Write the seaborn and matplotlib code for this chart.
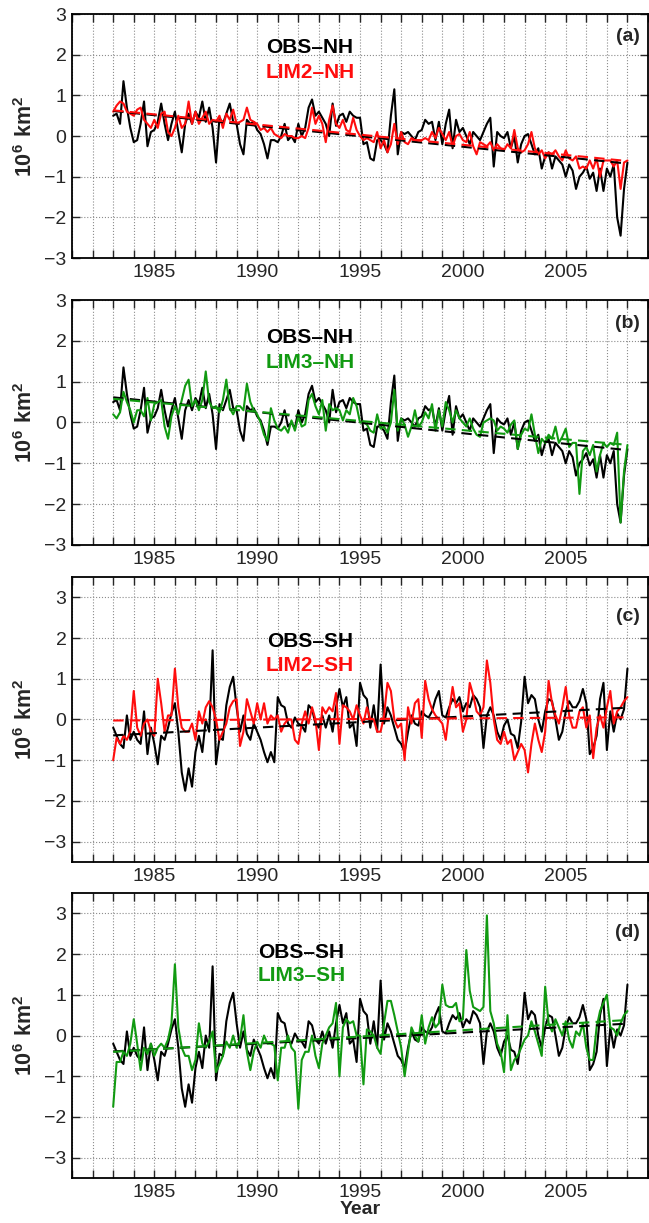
import numpy as np
import matplotlib
matplotlib.use('Agg')
import matplotlib.pyplot as plt
from matplotlib.ticker import MultipleLocator
import seaborn as sns

sns.set_style('ticks')
plt.rcParams['font.family'] = ['Liberation Sans', 'DejaVu Sans']
plt.rcParams['mathtext.fontset'] = 'custom'
plt.rcParams['mathtext.bf'] = 'Liberation Sans:bold'
plt.rcParams['mathtext.rm'] = 'Liberation Sans'

# sea-ice extent anomalies, bi-monthly samples from 1983.0 to 2008.0 (1e6 km^2)
obs_nh = [
    0.5, 0.55, 0.3, 1.35, 0.7, 0.2,
    -0.15, -0.1, 0.3, 0.85, -0.25, 0.1,
    0.15, 0.35, 0.8, 0.3, -0.1, 0.3,
    0.6, 0.1, -0.4, 0.3, 0.55, 0.3,
    0.6, 0.45, 0.85, 0.35, 0.7, 0.2,
    -0.65, 0.45, 0.3, 0.55, 0.8, 0.35,
    0.3, -0.2, -0.45, 0.4, 0.3, 0.35,
    0.15, 0.05, -0.2, -0.55, -0.1, -0.1,
    -0.15, 0.0, 0.3, -0.1, 0.0, -0.15,
    0.3, 0.0, 0.2, 0.7, 0.9, 0.5,
    0.6, 0.45, 0.3, 0.0, 0.8, 0.25,
    0.5, 0.55, 0.35, 0.6, 0.5, 0.45,
    0.45, -0.2, -0.15, -0.55, -0.6, -0.1,
    -0.1, -0.2, -0.4, 0.5, 1.15, -0.45,
    0.1, 0.05, 0.1, 0.0, -0.1, 0.1,
    0.15, 0.4, 0.3, 0.35, -0.1, 0.35,
    -0.2, 0.3, 0.65, -0.3, 0.4, 0.1,
    0.2, 0.0, -0.2, 0.1, 0.0, -0.1,
    0.1, 0.3, 0.45, -0.75, 0.1, 0.0,
    -0.05, 0.1, -0.3, 0.0, -0.65, -0.2,
    0.0, 0.05, -0.2, -0.45, -0.3, -0.8,
    -0.5, -0.4, -0.8, -0.5, -0.6, -0.7,
    -1.0, -0.7, -0.85, -1.3, -1.0, -0.9,
    -0.75, -1.05, -0.9, -1.35, -0.8, -1.35,
    -0.8, -1.0, -0.7, -2.0, -2.45, -1.3,
    -0.65,
]
lim2_nh = [
    0.6, 0.75, 0.85, 0.8, 0.6, 0.55,
    0.5, 0.65, 0.7, 0.4, 0.3, 0.2,
    0.4, 0.2, 0.55, 0.6, 0.1, 0.0,
    0.2, 0.5, 0.2, 0.3, 0.85, 0.3,
    0.6, 0.3, 0.45, 0.6, 0.3, 0.4,
    0.35, 0.5, 0.2, 0.55, 0.4, 0.65,
    0.3, 0.35, 0.4, 0.7, 0.4, 0.35,
    0.3, 0.15, 0.2, 0.1, 0.2, 0.05,
    0.0, -0.05, 0.05, 0.0, 0.0, -0.05,
    -0.05, 0.0, -0.05, 0.2, 0.7, 0.3,
    0.5, 0.3, -0.15, 0.4, 0.75, 0.3,
    0.2, 0.4, 0.15, 0.1, 0.45, 0.15,
    0.0, -0.1, -0.05, -0.1, -0.15, 0.1,
    -0.3, -0.1, -0.4, -0.2, 0.3, -0.2,
    0.1, -0.15, -0.2, -0.05, -0.1, -0.1,
    -0.1, -0.05, -0.1, 0.1, -0.05, 0.2,
    0.05, -0.1, 0.1, -0.25, 0.0, 0.05,
    -0.1, -0.15, 0.1, -0.25, -0.45, -0.15,
    -0.2, -0.25, -0.15, -0.35, -0.2, -0.3,
    -0.35, -0.2, -0.3, 0.15, -0.3, -0.4,
    -0.35, -0.2, 0.1, -0.3, -0.45, -0.35,
    -0.55, -0.4, -0.45, -0.35, -0.5, -0.6,
    -0.35, -0.55, -0.6, -0.5, -0.8, -0.75,
    -0.8, -0.6, -0.8, -0.55, -1.0, -0.6,
    -0.6, -0.6, -0.75, -0.6, -1.3, -0.65,
    -0.6,
]
lim3_nh = [
    0.2, 0.1, 0.25, 0.75, 0.5, 0.3,
    0.0, 0.3, 0.3, 0.15, 0.6, 0.05,
    0.45, 0.5, 0.55, -0.1, -0.4, 0.15,
    0.4, 0.2, 0.55, 0.9, 1.05, 0.4,
    0.55, 0.3, 0.55, 1.25, 0.5, 0.35,
    0.4, 0.25, 0.55, 1.05, 0.35, 0.2,
    0.4, 0.4, 0.3, 0.95, 0.5, 0.3,
    0.2, 0.0, -0.3, -0.45, 0.35, 0.05,
    -0.15, -0.2, -0.1, -0.25, 0.05, -0.2,
    0.15, -0.1, -0.05, 0.55, 0.7, 0.4,
    0.2, 0.55, -0.2, 0.45, 0.3, 0.35,
    0.3, 0.05, 0.3, 0.2, 0.6, 0.4,
    0.0, 0.0, -0.05, -0.2, -0.25, 0.2,
    -0.15, -0.1, -0.25, 0.0, 0.8, -0.2,
    0.1, -0.05, -0.35, -0.1, 0.3, -0.1,
    0.0, 0.25, 0.1, 0.45, -0.2, 0.3,
    -0.1, 0.5, 0.3, 0.0, 0.3, 0.1,
    0.0, -0.1, 0.1, -0.15, -0.3, -0.35,
    0.0, 0.05, 0.1, 0.05, -0.2, -0.1,
    -0.15, -0.25, -0.05, 0.05, -0.65, -0.3,
    -0.15, -0.2, 0.2, -0.3, -0.75, -0.4,
    -0.5, -0.3, -0.4, -0.1, -0.5, -0.35,
    -0.15, -0.6, -0.5, -0.5, -1.75, -0.7,
    -0.6, -0.8, -0.55, -1.2, -0.8, -0.5,
    -0.6, -0.5, -0.55, -0.25, -2.45, -1.2,
    -0.55,
]
obs_sh = [
    -0.2, -0.4, -0.6, -0.7, 0.1, -0.5,
    -0.3, -0.5, -0.6, 0.2, -0.85, -0.2,
    -0.6, -1.1, -0.4, -0.5, -0.2, 0.15,
    0.4, -0.3, -1.3, -1.75, -1.2, -1.65,
    -0.8, -0.4, -0.8, 0.0, -0.3, 1.7,
    -1.1, -0.45, -0.5, 0.35, 0.8, 1.05,
    0.3, -0.3, 0.1, -0.35, -0.5, -0.1,
    -0.3, -0.5, -0.8, -1.05, -0.8, -1.05,
    0.55, 0.35, 0.3, -0.1, -0.2, 0.05,
    -0.1, -0.15, -0.3, 0.35, 0.25, -0.1,
    -0.2, 0.1, -0.2, 0.1, -0.3, 0.3,
    0.75, 0.3, 0.55, -0.2, -0.1, -0.65,
    0.9, 0.6, 0.5, -0.2, 0.35, -0.3,
    1.35, -0.1, 0.3, 0.1, -0.2, -0.5,
    -0.6, -0.8, -0.3, 0.1, -0.1, -0.15,
    0.2, 0.1, 0.05, 0.2, 0.5, 0.7,
    0.1, 0.05, 0.3, 0.5, 0.4, 0.55,
    0.2, 0.4, 0.3, 0.6, 0.5, 0.3,
    -0.7, 0.1, 0.3, 0.1, -0.3, -0.5,
    -0.15, 0.0, -0.35, -0.4, -0.7, -0.05,
    1.05, 0.4, 0.6, 0.5, 0.0, -0.3,
    0.2, 0.5, 0.45, 0.0, -0.5, -0.3,
    0.2, 0.45, 0.3, 0.3, 0.45, 0.75,
    0.4, -0.85, -0.7, -0.4, 0.5, 0.9,
    -0.75, 0.2, -0.3, 0.15, 0.0, 0.25,
    1.25,
]
lim2_sh = [
    -1.0, -0.45, -0.6, -0.4, -0.5, -0.3,
    0.7, -0.2, -0.4, -0.1, 0.0, -0.3,
    -0.4, 1.0, 0.4, -0.3, 0.1, 0.1,
    1.25, 0.3, -0.2, -0.3, -0.3, -0.1,
    -0.5, 0.2, -0.1, 0.3, 0.45, 0.3,
    0.0, -0.5, -0.3, -0.1, 0.3, 0.45,
    0.5, -0.65, -0.3, 0.5, 0.2, -0.1,
    0.4, 0.0, 0.4, -0.1, 0.1, 0.0,
    0.1, -0.3, -0.1, 0.0, 0.0, -0.5,
    -0.6, -0.1, 0.2, -0.1, 0.3, 0.0,
    -0.75, 0.3, 0.15, 0.3, 0.2, 0.65,
    -0.6, 0.35, 0.3, 0.2, 0.0, 0.35,
    0.1, -0.1, 0.3, 0.0, 0.0, -0.3,
    -0.3, 0.1, 0.9, 0.7, 0.0, -0.2,
    -0.1, -1.0, 0.3, -0.1, 0.4, 0.5,
    -0.45, 0.95, 0.5, 0.25, 0.1, 0.0,
    -0.1, -0.5, 0.2, 0.8, 0.3, 0.4,
    -0.3, 0.0, 0.9, 0.6, 0.2, 0.1,
    0.3, 1.45, 0.9, 0.0, -0.5, -0.6,
    -0.3, -0.6, -0.5, -1.0, -0.8, -0.6,
    -0.75, -1.3, -0.6, -0.1, -0.5, -0.8,
    -0.3, 0.95, 0.4, 0.1, -0.1, 0.3,
    0.8, 0.1, -0.2, -0.2, 0.2, 0.3,
    -0.2, 0.1, -0.95, -0.2, 0.1, -0.2,
    0.3, 0.7, -0.1, 0.2, 0.3, 0.45,
    0.55,
]
lim3_sh = [
    -1.75, -0.65, -0.65, -0.4, -0.5, -0.2,
    0.4, -0.2, -0.85, -0.3, -0.45, -0.2,
    -0.5, -0.3, -0.2, -0.3, -0.1, 0.3,
    1.75, 0.2, -0.3, -0.5, -0.5, -0.85,
    -0.6, 0.3, -0.2, -0.3, -0.15, 0.1,
    -0.9, -0.7, -0.5, -0.15, -0.3, 0.0,
    -0.3, -0.1, 0.5, -0.4, -0.85, -0.4,
    -0.15, -0.3, 0.0, -0.2, -0.2, -0.25,
    -1.1, -0.3, -0.3, 0.0, -0.3, -0.4,
    -1.8, -0.6, -0.4, -0.4, 0.0, -0.5,
    -0.8, -0.2, 0.0, 0.2, 0.3, 0.8,
    -1.0, 0.2, 0.4, 0.3, 0.35, 0.0,
    0.0, -1.2, 0.15, 0.1, 0.0, -0.3,
    -0.45, 0.3, 0.85, 0.85, 0.5, 0.1,
    -0.3, -1.0, -0.4, 0.2, 0.0, -0.15,
    0.5, -0.2, 0.2, 0.45, 0.2, 0.3,
    1.25, 0.75, 0.7, 0.7, 0.8, 0.35,
    0.4, 2.1, 1.1, 0.7, 0.65, 0.6,
    0.7, 2.95, 0.6, 0.3, -0.2, -0.4,
    -0.9, 0.5, -0.85, -0.6, -0.5, -0.3,
    -0.1, 0.0, 0.35, 0.1, -0.2, -0.5,
    1.2, 0.3, 0.1, 0.4, 0.2, 0.0,
    0.35, -0.1, -0.3, 0.1, 0.0, 0.3,
    -0.3, -0.6, -0.6, 0.2, 0.6, 0.8,
    1.0, 0.2, 0.15, 0.0, 0.3, 0.5,
    0.6,
]
years = 1983 + np.arange(len(obs_nh)) / 6.0

RED = '#ff0d0d'
GREEN = '#119a11'

panels = [
    dict(obs=obs_nh, lim=lim2_nh, color=RED, names=('OBS\u2013NH', 'LIM2\u2013NH'),
         ylim=(-3, 3), tag='(a)', pos=[0.111, 0.789, 0.8875, 0.1995],
         txt=(0.413, 0.865, 0.762), tagy=0.906),
    dict(obs=obs_nh, lim=lim3_nh, color=GREEN, names=('OBS\u2013NH', 'LIM3\u2013NH'),
         ylim=(-3, 3), tag='(b)', pos=[0.111, 0.5544, 0.8875, 0.2003],
         txt=(0.413, 0.845, 0.743), tagy=0.906),
    dict(obs=obs_sh, lim=lim2_sh, color=RED, names=('OBS\u2013SH', 'LIM2\u2013SH'),
         ylim=(-3.5, 3.5), tag='(c)', pos=[0.111, 0.2952, 0.8875, 0.233],
         txt=(0.413, 0.772, 0.691), tagy=0.86),
    dict(obs=obs_sh, lim=lim3_sh, color=GREEN, names=('OBS\u2013SH', 'LIM3\u2013SH'),
         ylim=(-3.5, 3.5), tag='(d)', pos=[0.111, 0.0368, 0.8875, 0.233],
         txt=(0.398, 0.793, 0.712), tagy=0.86),
]

fig = plt.figure(figsize=(6.49, 12.23), dpi=100)

for i, p in enumerate(panels):
    ax = fig.add_axes(p['pos'])
    sns.lineplot(x=years, y=p['obs'], ax=ax, color='black', lw=1.5)
    sns.lineplot(x=years, y=p['lim'], ax=ax, color=p['color'], lw=1.5)
    sns.regplot(x=years, y=np.array(p['obs']), ax=ax, scatter=False, ci=None,
                color='black', line_kws=dict(ls='--', lw=1.5, dashes=(5, 3)))
    sns.regplot(x=years, y=np.array(p['lim']), ax=ax, scatter=False, ci=None,
                color=p['color'], line_kws=dict(ls='--', lw=1.5, dashes=(5, 3)))

    ax.set_xlim(1981, 2009)
    ax.set_ylim(*p['ylim'])
    ax.set_xticks([1985, 1990, 1995, 2000, 2005])
    ax.xaxis.set_minor_locator(MultipleLocator(1))
    ax.set_yticks(range(-3, 4))
    ax.grid(True, which='both', axis='x', ls=':', color='0.55', lw=0.8)
    ax.grid(True, which='major', axis='y', ls=':', color='0.55', lw=0.8)
    ax.tick_params(which='both', direction='in', top=True, right=True,
                   labelsize=14, width=1.0, length=5.5, pad=4)
    for s in ax.spines.values():
        s.set_linewidth(1.3)
        s.set_color('black')

    ax.set_ylabel(r'$\mathbf{10^{6}\ km^{2}}$', fontsize=15.5)
    ax.yaxis.set_label_coords(-0.06, 0.5)
    if i == 3:
        ax.set_xlabel('Year', fontsize=14, fontweight='bold', labelpad=0)
    else:
        ax.set_xlabel('')

    tx, ty1, ty2 = p['txt']
    ax.text(tx, ty1, p['names'][0], transform=ax.transAxes, ha='center', va='center',
            fontsize=15, fontweight='bold', color='black')
    ax.text(tx, ty2, p['names'][1], transform=ax.transAxes, ha='center', va='center',
            fontsize=15, fontweight='bold', color=p['color'])
    ax.text(0.985, p['tagy'], p['tag'], transform=ax.transAxes, ha='right', va='center',
            fontsize=14, fontweight='bold')

fig.savefig('out.png', dpi=100)
